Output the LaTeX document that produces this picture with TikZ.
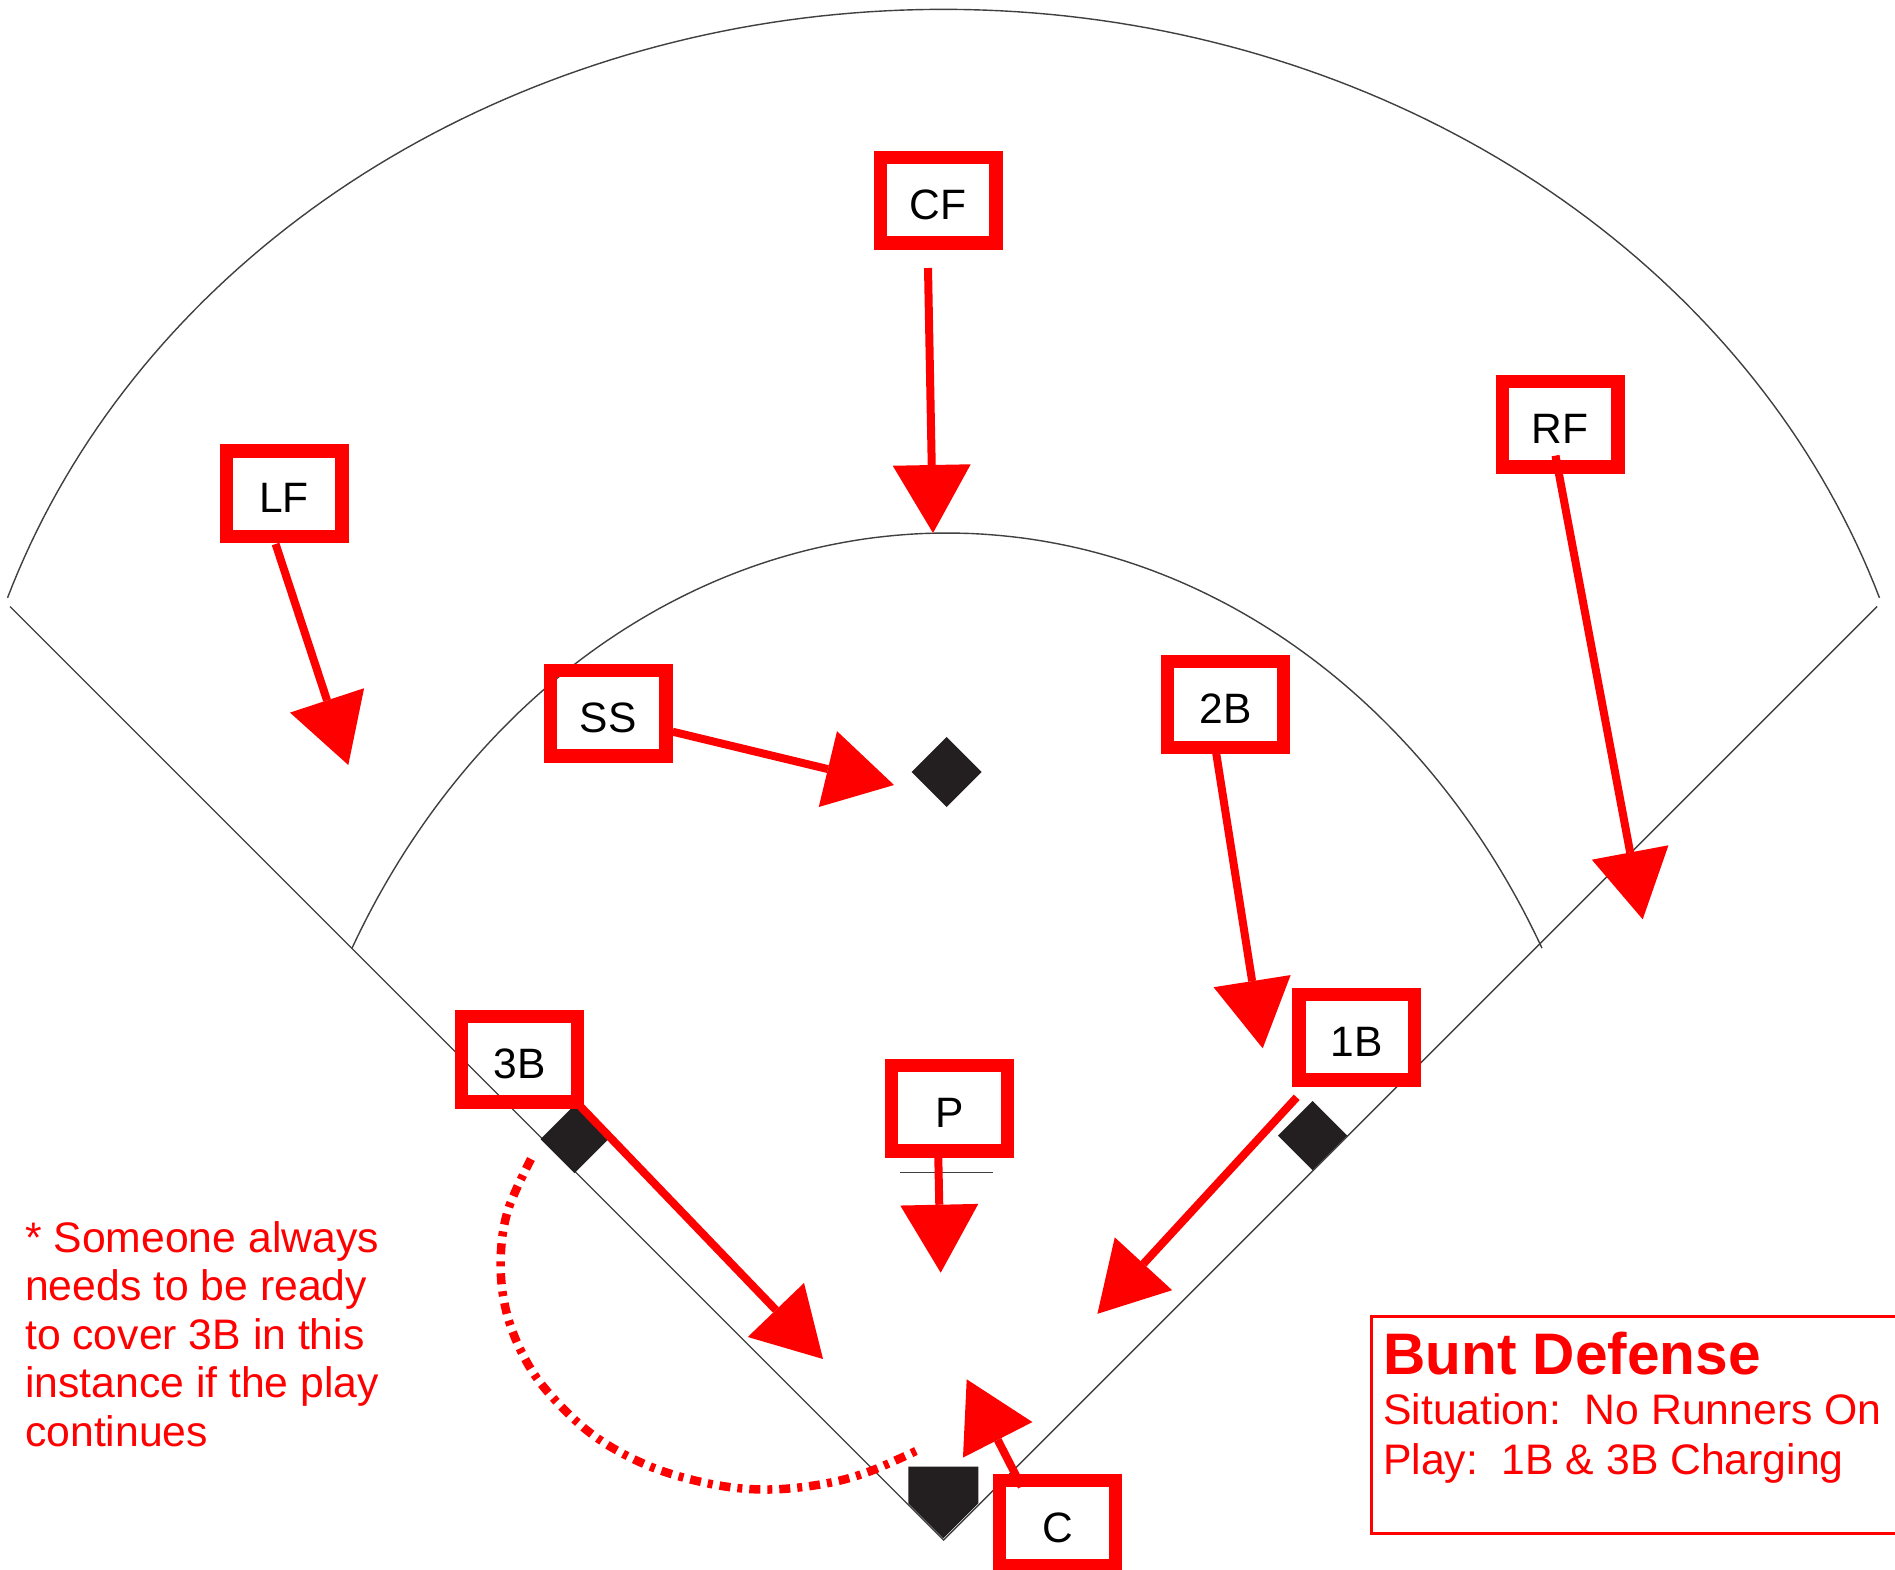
\documentclass[tikz,border=0pt]{standalone}
\usepackage{fontspec}
\setmainfont{Liberation Sans}
\usetikzlibrary{arrows.meta,calc}
\definecolor{basecol}{HTML}{231F20}
\definecolor{linecol}{HTML}{404040}
\begin{document}
\frenchspacing
\begin{tikzpicture}[x=1pt,y=-1pt,
  fieldline/.style={draw=linecol,line width=1.4pt},
  posbox/.style={draw=red,line width=13.3pt,minimum width=115.7pt,minimum height=85.7pt,
    inner sep=0pt,font=\fontsize{42.5}{50}\selectfont,text height=38pt,text depth=0pt},
  mv/.style={draw=red,line width=8pt,-{Triangle[length=68pt,width=78pt,line width=0pt]}},
  cover/.style={draw=red,line width=8.5pt,dash pattern=on 11pt off 7pt on 5pt off 7pt},
  notetext/.style={text=red,inner sep=0pt,anchor=base west,font=\fontsize{42.7}{48}\selectfont},
  legtext/.style={text=red,inner sep=0pt,anchor=base west,font=\fontsize{42.7}{50}\selectfont},
  legtitle/.style={text=red,inner sep=0pt,anchor=base west,font=\fontsize{58.6}{60}\selectfont\bfseries},
  base/.style={fill=basecol}]
\fill[white] (0,0) rectangle (1895,1569);
\useasboundingbox (0,0) rectangle (1895,1569);

% field lines
\coordinate (home) at (943.5,1540);
\coordinate (lfend) at (10,606.5);
\coordinate (rfend) at (1877,606.5);
\draw[fieldline] (lfend) -- (home) -- (rfend);
\draw[fieldline] plot[domain=-161.5:-18.5,samples=150] ({943.5+987*cos(\x)},{871.3+862*sin(\x)});
\draw[fieldline] plot[domain=-151.2:-28.8,samples=150] ({947+679*cos(\x)},{1334+801*sin(\x)});
% pitcher's rubber
\draw[fieldline] (900,1172.7) -- (992.7,1172.7);

% bases
\fill[base] (946.7,737) -- (981.7,772) -- (946.7,807) -- (911.7,772) -- cycle;
\fill[base] (574.5,1105) -- (608.5,1139) -- (574.5,1173) -- (540.5,1139) -- cycle;
\fill[base] (1312.5,1101) -- (1347,1135.5) -- (1312.5,1170) -- (1278,1135.5) -- cycle;
\fill[base] (908.3,1466.7) -- (978.3,1466.7) -- (978.3,1503.3) -- (943.3,1538.3) -- (908.3,1503.3) -- cycle;

% dotted cover path
\draw[cover] plot[smooth,tension=0.6] coordinates {(531,1159) (508,1210) (500.7,1258) (505,1306) (521,1351) (547,1391) (593,1435) (649,1466) (711,1484) (767,1489.5) (823,1484) (868,1472) (918,1450)};

% position boxes
\node[posbox] (cf) at (938,200) {CF};
\node[posbox] (lf) at (284,493.7) {LF};
\node[posbox] (rf) at (1560,424) {RF};
\node[posbox] (ss) at (608.2,713.2) {SS};
\node[posbox] (b2) at (1225.5,704.6) {2B};
\node[posbox] (b1) at (1356.7,1037.2) {1B};
\node[posbox] (b3) at (519.5,1059) {3B};
\node[posbox] (pp) at (949.5,1108) {P};
\node[posbox] (cc) at (1057.5,1523) {C};

% movement targets
\coordinate (cfT) at (933,533);
\coordinate (lfT) at (348.3,765);
\coordinate (rfT) at (1642.7,919.3);
\coordinate (ssT) at (894,785);
\coordinate (b2T) at (1262.7,1048.3);
\coordinate (b1T) at (1097.4,1313.8);
\coordinate (b3T) at (823,1359);
\coordinate (ppT) at (940.7,1272.7);
\coordinate (ccT) at (966.7,1379.3);

% movement arrows
\draw[mv] ($(cf)+(-10,68)$) -- (cfT);
\draw[mv] ($(lf)+(-8.4,50.3)$) -- (lfT);
\draw[mv] ($(rf)+(-4.5,31.6)$) -- (rfT);
\draw[mv] ($(ss)+(64.5,18.5)$) -- (ssT);
\draw[mv] ($(b2)+(-9.5,47.4)$) -- (b2T);
\draw[mv] ($(b1)+(-60,60.1)$) -- (b1T);
\draw[mv] ($(b3)+(60.5,47)$) -- (b3T);
\draw[mv] ($(pp)+(-11.2,50)$) -- (ppT);
\draw[mv] ($(cc)+(-35.8,-36.3)$) -- (ccT);

% note
\node[notetext] (n1) at (25,1252) {* Someone always};
\node[notetext] (n2) at (25,1300.5) {needs to be ready};
\node[notetext] (n3) at (25,1349) {to cover 3B in this};
\node[notetext] (n4) at (25,1397.5) {instance if the play};
\node[notetext] (n5) at (25,1446) {continues};

% legend
\draw[red,line width=3pt] (1371,1316) rectangle (1905,1533);
\node[legtitle] (lt) at (1383,1374) {Bunt Defense};
\node[legtext] (l1) at (1383,1424.5) {Situation:\ \ No Runners On};
\node[legtext] (l2) at (1383,1474) {Play:\ \ 1B \& 3B Charging};
\end{tikzpicture}
\end{document}
